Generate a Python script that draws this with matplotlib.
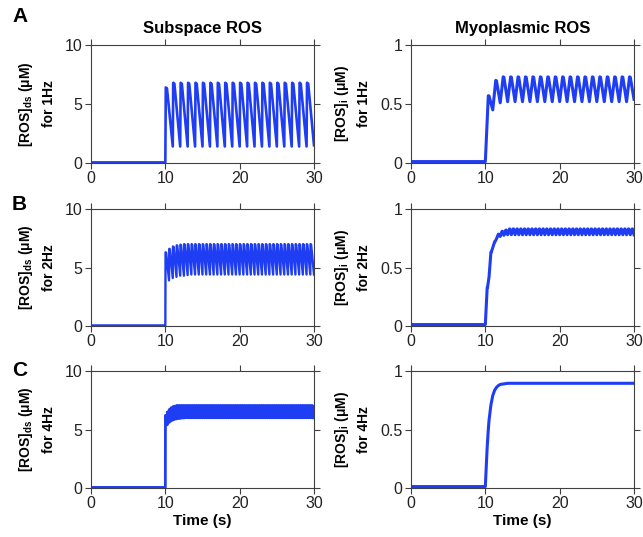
import numpy as np
import matplotlib
matplotlib.use("Agg")
import matplotlib.pyplot as plt

plt.rcParams['font.family'] = ['Liberation Sans', 'DejaVu Sans']
plt.rcParams['mathtext.fontset'] = 'custom'
plt.rcParams['mathtext.rm'] = 'Liberation Sans'
plt.rcParams['mathtext.bf'] = 'Liberation Sans:bold'
plt.rcParams['mathtext.it'] = 'Liberation Sans:italic'

# ---------------- data ----------------
stim_start = 10.0
t_end = 30.0
freqs = [1, 2, 4]
row_letters = ["A", "B", "C"]
col_titles = ["Subspace ROS", "Myoplasmic ROS"]
baseline_ds = 0.05
baseline_i = 0.012

# Subspace ROS: per-beat peak value and end-of-beat value
ds_1hz_peak = [6.4, 6.8, 6.8, 6.8, 6.8, 6.8, 6.8, 6.8, 6.8, 6.8,
               6.8, 6.8, 6.8, 6.8, 6.8, 6.8, 6.8, 6.8, 6.8, 6.8]
ds_1hz_end = [1.4, 1.4, 1.4, 1.4, 1.4, 1.4, 1.4, 1.4, 1.4, 1.4,
              1.4, 1.4, 1.4, 1.4, 1.4, 1.4, 1.4, 1.4, 1.4, 1.5]

ds_2hz_peak = [6.3, 6.6, 6.8, 6.9, 6.95, 7.0, 7.0, 7.0, 7.0, 7.0,
               7.0, 7.0, 7.0, 7.0, 7.0, 7.0, 7.0, 7.0, 7.0, 7.0,
               7.0, 7.0, 7.0, 7.0, 7.0, 7.0, 7.0, 7.0, 7.0, 7.0,
               7.0, 7.0, 7.0, 7.0, 7.0, 7.0, 7.0, 7.0, 7.0, 7.0]
ds_2hz_end = [3.9, 4.1, 4.2, 4.3, 4.3, 4.35, 4.4, 4.4, 4.4, 4.4,
              4.4, 4.4, 4.4, 4.4, 4.4, 4.4, 4.4, 4.4, 4.4, 4.4,
              4.4, 4.4, 4.4, 4.4, 4.4, 4.4, 4.4, 4.4, 4.4, 4.4,
              4.4, 4.4, 4.4, 4.4, 4.4, 4.4, 4.4, 4.4, 4.4, 4.4]

ds_4hz_peak = [6.2, 6.5, 6.7, 6.85, 6.95, 7.0, 7.05, 7.05, 7.05, 7.05,
               7.05, 7.05, 7.05, 7.05, 7.05, 7.05, 7.05, 7.05, 7.05, 7.05,
               7.05, 7.05, 7.05, 7.05, 7.05, 7.05, 7.05, 7.05, 7.05, 7.05,
               7.05, 7.05, 7.05, 7.05, 7.05, 7.05, 7.05, 7.05, 7.05, 7.05,
               7.05, 7.05, 7.05, 7.05, 7.05, 7.05, 7.05, 7.05, 7.05, 7.05,
               7.05, 7.05, 7.05, 7.05, 7.05, 7.05, 7.05, 7.05, 7.05, 7.05,
               7.05, 7.05, 7.05, 7.05, 7.05, 7.05, 7.05, 7.05, 7.05, 7.05,
               7.05, 7.05, 7.05, 7.05, 7.05, 7.05, 7.05, 7.05, 7.05, 7.05]
ds_4hz_end = [5.4, 5.6, 5.72, 5.8, 5.86, 5.9, 5.93, 5.95, 5.97, 5.98,
              6.0, 6.0, 6.0, 6.0, 6.0, 6.0, 6.0, 6.0, 6.0, 6.0,
              6.0, 6.0, 6.0, 6.0, 6.0, 6.0, 6.0, 6.0, 6.0, 6.0,
              6.0, 6.0, 6.0, 6.0, 6.0, 6.0, 6.0, 6.0, 6.0, 6.0,
              6.0, 6.0, 6.0, 6.0, 6.0, 6.0, 6.0, 6.0, 6.0, 6.0,
              6.0, 6.0, 6.0, 6.0, 6.0, 6.0, 6.0, 6.0, 6.0, 6.0,
              6.0, 6.0, 6.0, 6.0, 6.0, 6.0, 6.0, 6.0, 6.0, 6.0,
              6.0, 6.0, 6.0, 6.0, 6.0, 6.0, 6.0, 6.0, 6.0, 6.0]

# Myoplasmic ROS: per-beat peak value and end-of-beat value
i_1hz_peak = [0.57, 0.70, 0.73, 0.73, 0.73, 0.73, 0.73, 0.73, 0.73, 0.73,
              0.73, 0.73, 0.73, 0.73, 0.73, 0.73, 0.73, 0.73, 0.73, 0.73]
i_1hz_end = [0.45, 0.51, 0.52, 0.52, 0.52, 0.52, 0.52, 0.52, 0.52, 0.52,
             0.52, 0.52, 0.52, 0.52, 0.52, 0.52, 0.52, 0.52, 0.52, 0.54]

i_2hz_peak = [0.33, 0.63, 0.72, 0.785, 0.81, 0.82, 0.83, 0.83, 0.83, 0.83,
              0.83, 0.83, 0.83, 0.83, 0.83, 0.83, 0.83, 0.83, 0.83, 0.83,
              0.83, 0.83, 0.83, 0.83, 0.83, 0.83, 0.83, 0.83, 0.83, 0.83,
              0.83, 0.83, 0.83, 0.83, 0.83, 0.83, 0.83, 0.83, 0.83, 0.83]
i_2hz_end = [0.42, 0.67, 0.745, 0.765, 0.775, 0.78, 0.78, 0.78, 0.78, 0.78,
             0.78, 0.78, 0.78, 0.78, 0.78, 0.78, 0.78, 0.78, 0.78, 0.78,
             0.78, 0.78, 0.78, 0.78, 0.78, 0.78, 0.78, 0.78, 0.78, 0.78,
             0.78, 0.78, 0.78, 0.78, 0.78, 0.78, 0.78, 0.78, 0.78, 0.78]

# 4 Hz myoplasmic trace is smooth: sampled (time, value) readings
i_4hz_time = [0.0, 10.0, 10.1, 10.25, 10.4, 10.5, 10.75, 11.0, 11.25, 11.5, 11.75, 12.0, 12.5, 13.0, 30.0]
i_4hz_value = [0.012, 0.012, 0.15, 0.35, 0.50, 0.58, 0.71, 0.79, 0.835, 0.86, 0.875, 0.885, 0.89, 0.895, 0.895]

ds_series = [(ds_1hz_peak, ds_1hz_end), (ds_2hz_peak, ds_2hz_end), (ds_4hz_peak, ds_4hz_end)]
i_series = [(i_1hz_peak, i_1hz_end), (i_2hz_peak, i_2hz_end), None]

LINE = '#1f3df2'
AXC = '#404040'


def beat_trace(freq, peaks, ends, base, rise_frac, top_frac):
    T = 1.0 / freq
    t = [0.0, stim_start]
    y = [base, base]
    for k, (p, e) in enumerate(zip(peaks, ends)):
        t0 = stim_start + k * T
        t += [t0 + rise_frac * T, t0 + top_frac * T, t0 + T]
        y += [p, p * 0.985 + e * 0.015, e]
    t = np.array(t)
    y = np.array(y)
    m = t <= t_end + 1e-9
    return t[m], y[m]


fig = plt.figure(figsize=(6.43, 5.37), dpi=100)
W, H = 643.0, 537.0
col_x = [91, 411]
ax_w = 223
row_top = [45, 209, 371]
row_bot = [163, 326, 488]
letter_y = [17, 204, 370]
ds_lw = [1.9, 1.7, 2.0]

for r, f in enumerate(freqs):
    for c in range(2):
        ax = fig.add_axes([col_x[c] / W, 1 - row_bot[r] / H, ax_w / W, (row_bot[r] - row_top[r]) / H])
        if c == 0:
            pk, en = ds_series[r]
            t, y = beat_trace(f, pk, en, baseline_ds, 0.06, 0.22)
            ax.plot(t, y, color=LINE, lw=ds_lw[r], solid_joinstyle='round')
            ax.set_ylim(0, 10)
            ax.set_yticks([0, 5, 10])
            ax.set_yticklabels(['0', '5', '10'])
            ax.set_ylabel('[ROS]$_{\\mathbf{ds}}$ (μM)\nfor %dHz' % f, fontsize=10,
                          fontweight='bold', labelpad=6.5, linespacing=1.6)
        else:
            if i_series[r] is not None:
                pk, en = i_series[r]
                if f == 1:
                    t, y = beat_trace(f, pk, en, baseline_i, 0.40, 0.50)
                else:
                    t, y = beat_trace(f, pk, en, baseline_i, 0.50, 0.60)
            else:
                t, y = np.array(i_4hz_time), np.array(i_4hz_value)
            ax.plot(t, y, color=LINE, lw=2.2, solid_joinstyle='round')
            ax.set_ylim(0, 1)
            ax.set_yticks([0, 0.5, 1])
            ax.set_yticklabels(['0', '0.5', '1'])
            ax.set_ylabel('[ROS]$_{\\mathbf{i}}$ (μM)\nfor %dHz' % f, fontsize=10,
                          fontweight='bold', labelpad=6.5, linespacing=1.6)
        ax.set_xlim(0, 30)
        ax.set_xticks([0, 10, 20, 30])
        ax.tick_params(direction='out', length=4, width=0.8, top=True, right=True,
                       labelsize=11.5, colors=AXC, labelcolor='#222222', pad=2)
        for s in ax.spines.values():
            s.set_color(AXC)
            s.set_linewidth(0.8)
        if r == 0:
            ax.set_title(col_titles[c], fontsize=12, fontweight='bold', pad=9)
        if r == 2:
            ax.set_xlabel('Time (s)', fontsize=11, fontweight='bold', labelpad=2)
    fig.text(12 / W, 1 - letter_y[r] / H, row_letters[r], fontsize=15,
             fontweight='bold', ha='left', va='center')

fig.savefig('out.png', dpi=100)
